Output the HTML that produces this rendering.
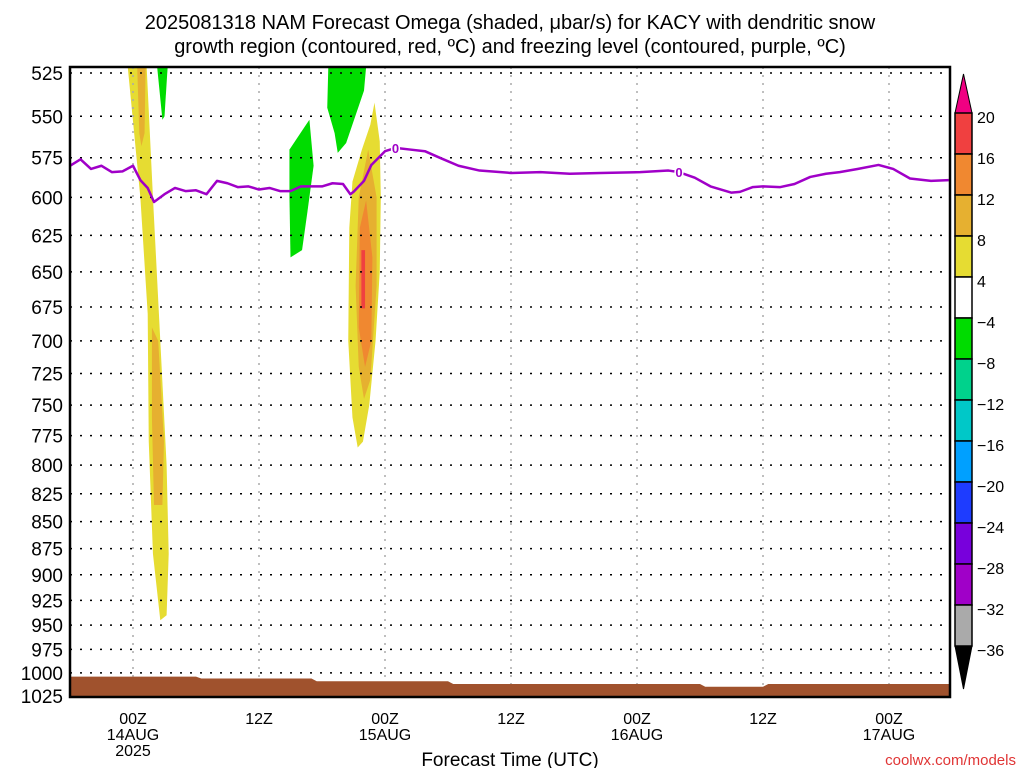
<!DOCTYPE html>
<html><head><meta charset="utf-8"><style>
body{margin:0;background:#fff;width:1024px;height:768px;overflow:hidden;font-family:"Liberation Sans",sans-serif}
svg text{font-family:"Liberation Sans",sans-serif}
</style></head><body>
<svg id="chart" width="1024" height="768" xmlns="http://www.w3.org/2000/svg">
<g id="title">
<text x="510" y="29" font-size="20" text-anchor="middle">2025081318 NAM Forecast Omega (shaded, μbar/s) for KACY with dendritic snow</text>
<text x="510" y="53" font-size="20" text-anchor="middle">growth region (contoured, red, ºC) and freezing level (contoured, purple, ºC)</text>
</g>
<g id="shade"></g>
<g id="grid"></g>
<g id="ground"></g>
<g id="frz"></g>
<g id="axes"></g>
<g id="cbar"></g>
<text x="510" y="766" font-size="19" text-anchor="middle">Forecast Time (UTC)</text>
<text x="1016" y="765" font-size="15" text-anchor="end" fill="#e03535">coolwx.com/models</text>
</svg>
<script>
const pressureTicks=[525,550,575,600,625,650,675,700,725,750,775,800,825,850,875,900,925,950,975,1000,1025];
const timeTickHours=[0,12,24,36,48,60,72];
const timeTickLabels=["00Z","12Z","00Z","12Z","00Z","12Z","00Z"];
const timeTickDates=["14AUG","","15AUG","","16AUG","","17AUG"];
const frzHours=[-6,-5,-4,-3,-2,-1,0,0.7,1.4,2,3,4,5,6,7,8,9,10,11,12,13,14,15,16,17,18,19,20,20.7,21,22,22.7,24,25,26.4,27.8,29.2,31,33,36,38.8,41.6,44.5,48.3,51,52,53.5,55,57,57.8,59,60,61.6,63,64.5,66,67.3,69,71,72.4,74,76,77.7];
const frzPres=[580,576,582,580,584,583.5,580,589,594,603,598,594,596,595.5,598,589.5,591,593.5,593,595,594,596,596,593,593,593,591,591.5,598,596.5,589.5,579.5,571,569,570,571,575,580,583,584.5,584,585,584.5,584,583,584,587.5,593,597,596.5,593.5,593,593.5,591.5,587,585,584,582,579.5,582,588,589.5,589];
const groundHours=[-6,6,6.5,17,17.5,30,30.5,54,54.5,60,60.5,78];
const groundPres=[1004,1004,1006,1006,1009,1009,1012,1012,1015,1015,1012,1012];
const cbarLevels=[20,16,12,8,4,-4,-8,-12,-16,-20,-24,-28,-32,-36];
const cbarColors=["#f04040","#f08830","#e6b030","#e6dc32","#ffffff","#00dc00","#00d28c","#00c8c8","#00a0ff","#1e3cff","#7800dc","#a000c8","#aaaaaa"];
// omega regions: [hour, pressure] outlines
const blobYellowA=[[-0.5,520],[1.3,520],[1.9,600],[2.6,700],[3.2,800],[3.4,880],[3.2,940],[2.6,945],[1.9,880],[1.5,780],[1.4,680],[0.7,600]];
const blobOrangeA1=[[0.4,520],[1.2,520],[1.1,560],[0.8,568],[0.6,560]];
const blobOrangeA2=[[1.8,690],[2.4,700],[2.95,780],[2.8,835],[2.0,835],[1.8,760]];
const blobYellowB=[[23.0,542],[23.5,565],[23.6,600],[23.5,650],[23.1,700],[22.5,750],[21.9,780],[21.4,785],[20.9,760],[20.5,700],[20.6,620],[20.9,590],[21.8,570],[22.6,555]];
const blobOrangeB=[[22.4,570],[23.2,600],[23.2,660],[22.6,730],[22.0,745],[21.5,720],[21.2,660],[21.5,600]];
const blobDeepB=[[22.2,602],[22.8,640],[22.7,700],[22.1,720],[21.5,690],[21.6,620]];
const blobRedB=[[21.75,635],[22.1,635],[22.1,676],[21.75,676]];
const blobGreen1=[[2.3,520],[3.3,520],[3.0,550],[2.8,552]];
const blobGreen2=[[14.9,570],[16.8,552],[17.2,580],[16.6,610],[16.1,635],[15.0,640],[14.9,600]];
const blobGreen3=[[18.6,520],[22.2,520],[22.0,535],[20.3,566],[19.5,572],[19.2,560],[18.5,545]];
const blobs=[[blobYellowA,"#e6dc32","yellow-a"],[blobOrangeA1,"#e6b030","orange-a1"],[blobOrangeA2,"#e6b030","orange-a2"],[blobYellowB,"#e6dc32","yellow-b"],[blobOrangeB,"#e6b030","orange-b"],[blobDeepB,"#f08830","deep-orange-b"],[blobRedB,"#f04040","red-b"],[blobGreen1,"#00dc00","green-1"],[blobGreen2,"#00dc00","green-2"],[blobGreen3,"#00dc00","green-3"]];

const L=70,R=950,T=67,B=697;
const x=h=>133+h*10.5;
const y=p=>73+931*Math.log(p/525);
const NS="http://www.w3.org/2000/svg";
function mk(tag,parent,at){const e=document.createElementNS(NS,tag);for(const k in at)e.setAttribute(k,at[k]);parent.appendChild(e);return e;}
const clipY=v=>Math.max(T,Math.min(B,v));
const shade=document.getElementById('shade');
blobs.forEach(b=>{
 const e=mk('polygon',shade,{points:b[0].map(q=>x(q[0])+','+clipY(y(q[1]))).join(' '),fill:b[1]});
 
 
});
const grid=document.getElementById('grid');
pressureTicks.forEach(p=>{
 const e=mk('line',grid,{x1:L,x2:R,y1:y(p),y2:y(p),stroke:'#000','stroke-dasharray':'2 8','stroke-width':1.5});
 
 
});
timeTickHours.forEach(h=>{
 const e=mk('line',grid,{x1:x(h),x2:x(h),y1:T,y2:B,stroke:'#aaa','stroke-dasharray':'2 6','stroke-width':1.5});
 
 
});
const g=document.getElementById('ground');
let pts=[];groundHours.forEach((h,i)=>pts.push(Math.max(L,Math.min(R,x(h)))+','+y(groundPres[i])));
pts.push(R+','+B);pts.push(L+','+B);
const gp=mk('polygon',g,{points:pts.join(' '),fill:'#a0522d'});


const frz=document.getElementById('frz');
const fl=mk('polyline',frz,{points:frzHours.map((h,i)=>Math.max(L,Math.min(R,x(h)))+','+y(frzPres[i])).join(' '),fill:'none',stroke:'#a000c8','stroke-width':2.5,'stroke-linejoin':'round'});


[[25,569],[52,584]].forEach(q=>{
 const t=mk('text',frz,{x:x(q[0]),y:y(q[1])+5,'font-size':13,'text-anchor':'middle',fill:'#a000c8','font-weight':'bold',stroke:'#fff','stroke-width':3,'paint-order':'stroke'});
 t.textContent='0';
 
 
});
const ax=document.getElementById('axes');
const fr=mk('rect',ax,{x:L,y:T,width:R-L,height:B-T,fill:'none',stroke:'#000','stroke-width':2.5});


pressureTicks.forEach(p=>{
 const t=mk('text',ax,{x:63,y:y(p)+7,'font-size':19,'text-anchor':'end'});
 t.textContent=p;
 
 
});
timeTickHours.forEach((h,i)=>{
 const t=mk('text',ax,{x:x(h),y:724,'font-size':16,'text-anchor':'middle'});
 t.textContent=timeTickLabels[i];
 
 
 if(timeTickDates[i]){
  const d=mk('text',ax,{x:x(h),y:740,'font-size':16,'text-anchor':'middle'});
  d.textContent=timeTickDates[i];
  
  
 }
});
const yr=mk('text',ax,{x:x(0),y:756,'font-size':16,'text-anchor':'middle'});
yr.textContent='2025';


const cb=document.getElementById('cbar');
const cx=955,cw=17,ct=113,bh=41;
const tri1=mk('polygon',cb,{points:`${cx},${ct} ${cx+cw},${ct} ${cx+cw/2},74`,fill:'#f00082',stroke:'#000'});


cbarColors.forEach((c,i)=>{
 const r=mk('rect',cb,{x:cx,y:ct+i*bh,width:cw,height:bh,fill:c,stroke:'#000','stroke-width':1.5});
 
 
});
const cbEnd=ct+cbarColors.length*bh;
const tri2=mk('polygon',cb,{points:`${cx},${cbEnd} ${cx+cw},${cbEnd} ${cx+cw/2},${cbEnd+43}`,fill:'#000',stroke:'#000'});


cbarLevels.forEach((v,i)=>{
 const t=mk('text',cb,{x:977,y:ct+i*bh+10,'font-size':16});
 t.textContent=v<0?'−'+(-v):v;
 
 
});
</script>
</body></html>
